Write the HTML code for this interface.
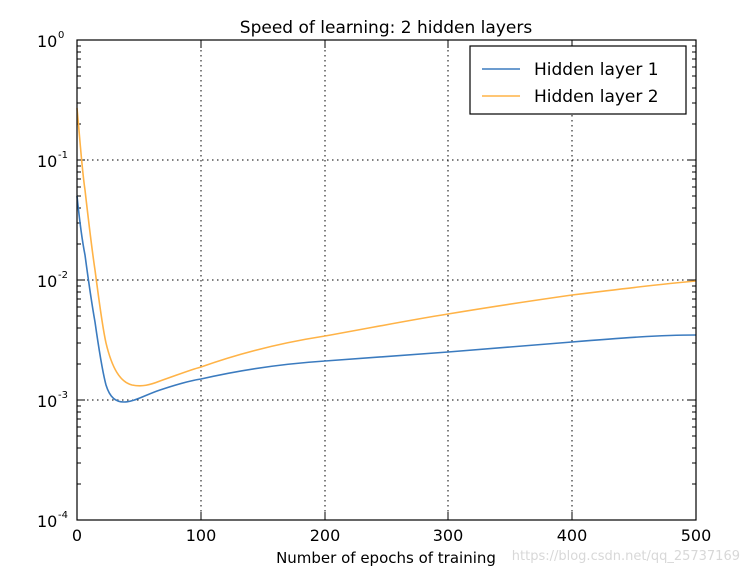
<!DOCTYPE html>
<html><head><style>body{margin:0;background:#fff}svg{display:block}text{font-family:"DejaVu Sans","Liberation Sans",sans-serif;fill:#000}</style></head><body>
<svg width="755" height="575" viewBox="0 0 755 575">
<rect width="755" height="575" fill="#fff"/>
<text x="386" y="33" font-size="17" text-anchor="middle">Speed of learning: 2 hidden layers</text>
<g stroke="#000" stroke-width="1" stroke-dasharray="1.5,3.5" fill="none">
<line x1="201" y1="40" x2="201" y2="520"/><line x1="325" y1="40" x2="325" y2="520"/><line x1="448" y1="40" x2="448" y2="520"/><line x1="572" y1="40" x2="572" y2="520"/>
<line x1="77" y1="160" x2="696" y2="160"/><line x1="77" y1="280" x2="696" y2="280"/><line x1="77" y1="400" x2="696" y2="400"/>
</g>
<g stroke="#000" stroke-width="1">
<path d="M77,160h8M77,280h8M77,400h8M696,160h-8M696,280h-8M696,400h-8M201,520v-8M325,520v-8M448,520v-8M572,520v-8M201,40v8M325,40v8M448,40v8M572,40v8"/>
<path id="m" d="M77,124h4M77,103h4M77,88h4M77,76h4M77,67h4M77,59h4M77,52h4M77,46h4M692,124h4M692,103h4M692,88h4M692,76h4M692,67h4M692,59h4M692,52h4M692,46h4"/>
<use href="#m" y="120"/><use href="#m" y="240"/><use href="#m" y="360"/>
</g>
<path d="M77,196 C80,225 82,240 85,255 C89,285 92,305 95,322 C99,350 102,370 106,385 C110,398 116,402 124,402 C134,402 145,395 160,390 C175,385 188,381 201,379 C240,370 280,364 325,361 C370,358 410,355 448,352 C490,349 530,345 572,342 C620,338 660,335 696,335" fill="none" stroke="#3b7bbf" stroke-width="1.6"/>
<path d="M77,108 C80,140 82,170 85,190 C89,225 92,250 95,270 C99,300 102,325 106,343 C112,368 120,382 132,385 C142,387 150,385 160,381 C180,374 190,370 201,367 C240,353 280,343 325,336 C370,328 410,320 448,314 C490,307 530,301 572,295 C620,289 660,284 696,281" fill="none" stroke="#ffb347" stroke-width="1.6"/>
<rect x="77" y="40" width="619" height="480" fill="none" stroke="#000" stroke-width="1.2"/>
<g font-size="16">
<text x="37" y="47">10</text><text x="58" y="38" font-size="10">0</text>
<text x="37" y="167">10</text><text x="58" y="158" font-size="10">-1</text>
<text x="37" y="287">10</text><text x="58" y="278" font-size="10">-2</text>
<text x="37" y="407">10</text><text x="58" y="398" font-size="10">-3</text>
<text x="37" y="527">10</text><text x="58" y="518" font-size="10">-4</text>
<g text-anchor="middle"><text x="77" y="541">0</text><text x="201" y="541">100</text><text x="325" y="541">200</text><text x="448" y="541">300</text><text x="572" y="541">400</text><text x="696" y="541">500</text></g>
</g>
<text x="386" y="563" font-size="15" text-anchor="middle">Number of epochs of training</text>
<rect x="470" y="46" width="216" height="68" fill="#fff" stroke="#000" stroke-width="1.2"/>
<line x1="482" y1="69" x2="520" y2="69" stroke="#3b7bbf" stroke-width="1.6"/>
<line x1="482" y1="96" x2="520" y2="96" stroke="#ffb347" stroke-width="1.6"/>
<text x="534" y="75" font-size="17">Hidden layer 1</text>
<text x="534" y="102" font-size="17">Hidden layer 2</text>
<text x="740" y="560" font-size="13" style="fill:#d8d8d8" text-anchor="end">https://blog.csdn.net/qq_25737169</text>
</svg>
</body></html>
